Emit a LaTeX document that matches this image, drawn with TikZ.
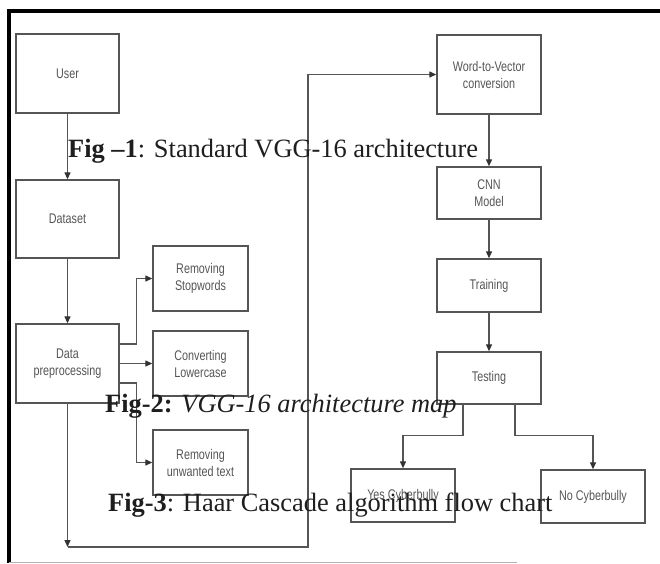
\documentclass[tikz,border=0pt]{standalone}
\usepackage{fontspec}
\setmainfont{Liberation Serif}
\newfontfamily\boxfont[FakeStretch=0.77]{Liberation Sans}
\usetikzlibrary{arrows.meta}
\definecolor{linegray}{HTML}{555555}
\definecolor{txtgray}{HTML}{555555}
\definecolor{capcol}{HTML}{1E1E1E}
\tikzset{
  flowbox/.style={draw=linegray, line width=1.4pt, rectangle, inner sep=0pt, align=center,
    text=txtgray, font=\boxfont\fontsize{14}{17}\selectfont},
  arr/.style={draw=linegray, line width=1.3pt, -{Triangle[length=7pt,width=6pt,color=black!80]}},
  caption/.style={anchor=base west, inner sep=0pt, text=capcol, font=\fontsize{26.4}{29}\selectfont}
}
\begin{document}
\begin{tikzpicture}[x=1pt,y=-1pt]
\useasboundingbox (0,0) rectangle (660,563);
% frame
\draw[line width=3.5pt, black] (660,11) -- (9,11) -- (9,563);
\draw[line width=1pt, gray!60] (9,562) -- (517,562);
% boxes
\node[flowbox, minimum width=103pt, minimum height=79pt] (user) at (67.5,73.5) {User};
\node[flowbox, minimum width=103pt, minimum height=78pt] (dataset) at (67.5,219) {Dataset};
\node[flowbox, minimum width=103pt, minimum height=79pt] (prep) at (67.5,363.5) {Data\\preprocessing};
\node[flowbox, minimum width=95pt, minimum height=65pt] (stop) at (200.5,278.5) {Removing\\Stopwords};
\node[flowbox, minimum width=95pt, minimum height=65pt] (lower) at (200.5,363.5) {Converting\\Lowercase};
\node[flowbox, minimum width=95pt, minimum height=65pt] (unwanted) at (200.5,462.5) {Removing\\unwanted text};
\node[flowbox, minimum width=104pt, minimum height=79pt] (w2v) at (489,74.5) {Word-to-Vector\\conversion};
\node[flowbox, minimum width=104pt, minimum height=52pt] (cnn) at (489,193) {CNN\\Model};
\node[flowbox, minimum width=104pt, minimum height=53pt] (train) at (489,285.5) {Training};
\node[flowbox, minimum width=104pt, minimum height=52pt] (test) at (489,378) {Testing};
\node[flowbox, minimum width=104pt, minimum height=53pt] (yes) at (403,495.5) {Yes Cyberbully};
\node[flowbox, minimum width=104pt, minimum height=53pt] (no) at (593,496.5) {No Cyberbully};
% connectors
\draw[arr] (user) -- (dataset);
\draw[arr] (dataset) -- (prep);
\draw[arr] ([yshift=19.5pt]prep.east) -- ++(17,0) |- (stop.west);
\draw[arr] (prep.east) -- (lower.west);
\draw[arr] ([yshift=-19.5pt]prep.east) -- ++(17,0) |- (unwanted.west);
\coordinate (c1) at (67.5,547);
\coordinate (c2) at (308,547);
\draw[arr] (prep.south) -- (c1);
\draw[arr] (c1) -- (c2) |- (w2v.west);
\draw[arr] (w2v) -- (cnn);
\draw[arr] (cnn) -- (train);
\draw[arr] (train) -- (test);
\draw[arr] ([xshift=-26pt]test.south) -- ++(0,31) -| (yes.north);
\draw[arr] ([xshift=26pt]test.south) -- ++(0,31) -| (no.north);
% captions
\node[caption] (cap1) at (68,157) {\textbf{Fig –1}: Standard VGG-16 architecture};
\node[caption] (cap2) at (105,412) {\textbf{Fig-2:} \textit{VGG-16 architecture map}};
\node[caption] (cap3) at (108,511) {\textbf{Fig-3}: Haar Cascade algorithm flow chart};
\end{tikzpicture}
\end{document}
